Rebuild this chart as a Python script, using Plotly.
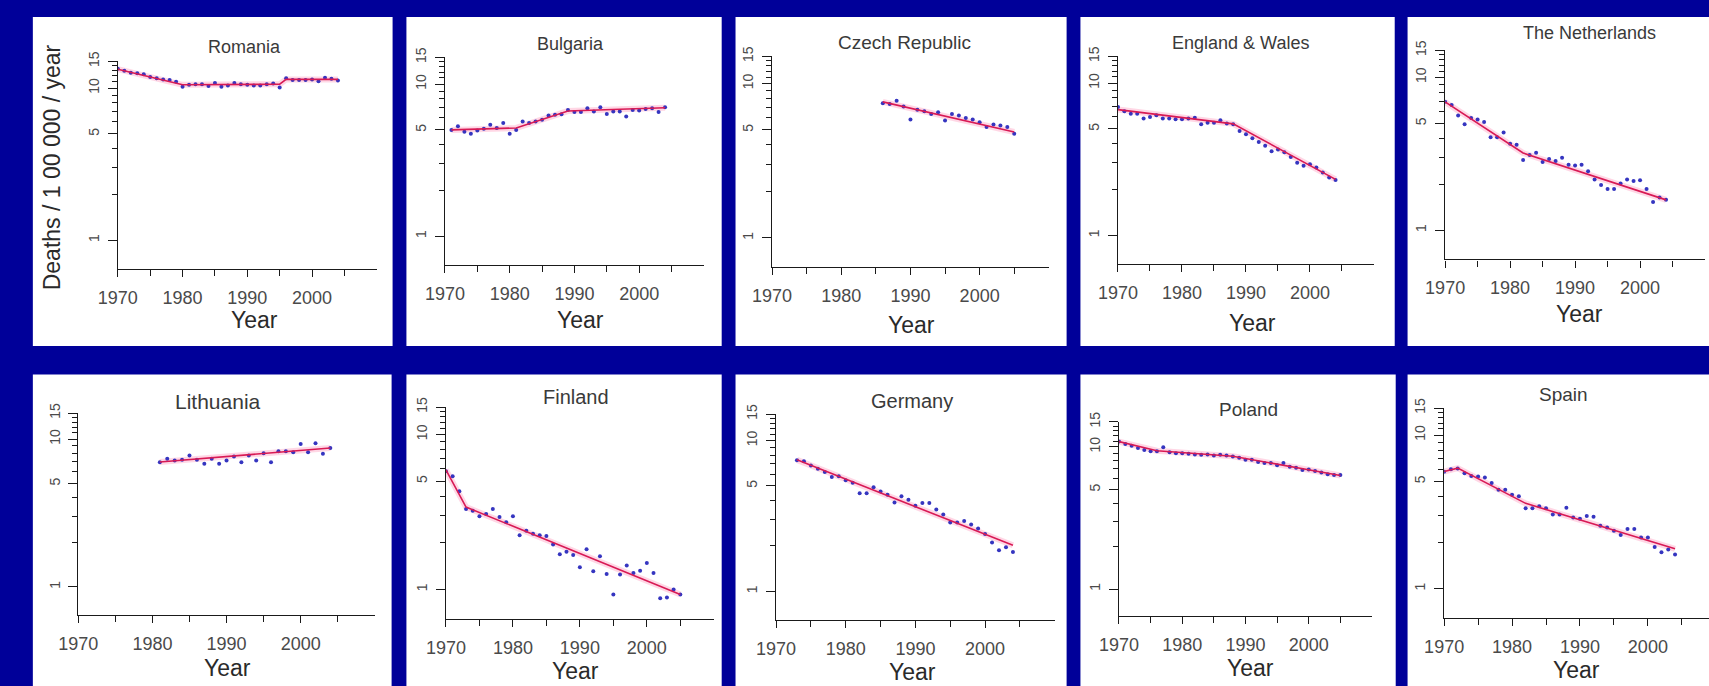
import plotly.graph_objects as go

# ---------------------------------------------------------------------------
# Mortality rates (deaths per 100 000 per year), observed points and joinpoint fits
# ---------------------------------------------------------------------------
romania_years = list(range(1970, 2005))
romania_rate = [13.4, 13.0, 12.6, 12.5, 12.3, 11.8, 11.6, 11.4, 11.3, 11.0,
                10.2, 10.5, 10.6, 10.6, 10.3, 10.8, 10.2, 10.4, 10.8, 10.6,
                10.5, 10.4, 10.4, 10.6, 10.7, 10.1, 11.6, 11.3, 11.3, 11.3,
                11.4, 11.1, 11.7, 11.5, 11.2]
romania_fit_years = [1970, 1980, 1995, 1996, 2004]
romania_fit = [13.3, 10.5, 10.6, 11.4, 11.4]

bulgaria_years = list(range(1971, 2005))
bulgaria_rate = [5.0, 5.28, 4.86, 4.71, 4.95, 5.08, 5.41, 5.15, 5.55, 4.71,
                 5.0, 5.69, 5.55, 5.69, 5.83, 6.22, 6.28, 6.33, 6.77, 6.55,
                 6.55, 6.94, 6.6, 7.05, 6.36, 6.6, 6.6, 6.13, 6.77, 6.7,
                 6.86, 6.94, 6.55, 7.05]
bulgaria_fit_years = [1971, 1981, 1989, 2004]
bulgaria_fit = [5.0, 5.15, 6.65, 7.0]

czech_years = list(range(1986, 2006))
czech_rate = [7.46, 7.37, 7.72, 7.1, 5.84, 6.77, 6.6, 6.35, 6.5, 5.75,
              6.35, 6.2, 5.98, 5.84, 5.6, 5.22, 5.42, 5.34, 5.22, 4.73]
czech_fit_years = [1986, 2005]
czech_fit = [7.6, 4.85]

england_years = list(range(1970, 2005))
england_rate = [6.97, 6.53, 6.28, 6.3, 5.86, 6.0, 6.15, 5.86, 5.86, 5.79,
                5.79, 5.86, 5.93, 5.36, 5.5, 5.5, 5.71, 5.42, 5.36, 4.85,
                4.62, 4.35, 4.1, 3.88, 3.57, 3.66, 3.52, 3.27, 3.0, 2.86,
                2.93, 2.79, 2.59, 2.4, 2.31]
england_fit_years = [1970, 1988, 2004]
england_fit = [6.7, 5.4, 2.33]

netherlands_years = list(range(1970, 2005))
netherlands_rate = [6.93, 6.6, 5.62, 4.93, 5.43, 5.3, 5.1, 4.06, 4.06, 4.36,
                    3.68, 3.62, 2.88, 3.1, 3.21, 2.79, 2.92, 2.84, 2.98, 2.68,
                    2.65, 2.68, 2.43, 2.15, 1.98, 1.86, 1.86, 2.02, 2.15, 2.1,
                    2.12, 1.86, 1.53, 1.64, 1.58]
netherlands_fit_years = [1970, 1982, 2004]
netherlands_fit = [6.9, 3.2, 1.58]

lithuania_years = list(range(1981, 2005))
lithuania_rate = [6.98, 7.36, 7.17, 7.24, 7.74, 7.24, 6.81, 7.36, 6.81, 7.17,
                  7.62, 6.98, 7.74, 7.17, 8.02, 6.98, 8.27, 8.27, 8.15, 9.26,
                  8.15, 9.36, 7.95, 8.71]
lithuania_fit_years = [1981, 2004]
lithuania_fit = [7.0, 8.7]

finland_years = list(range(1970, 2006))
finland_rate = [5.79, 5.38, 4.3, 3.3, 3.22, 2.97, 3.07, 3.3, 2.93, 2.72,
                2.97, 2.24, 2.39, 2.29, 2.24, 2.21, 1.95, 1.69, 1.75, 1.67,
                1.39, 1.82, 1.31, 1.64, 1.26, 0.93, 1.25, 1.43, 1.28, 1.32,
                1.48, 1.28, 0.88, 0.89, 1.0, 0.93]
finland_fit_years = [1970, 1973, 2005]
finland_fit = [5.9, 3.4, 0.93]

germany_years = list(range(1973, 2005))
germany_rate = [7.4, 7.3, 6.84, 6.51, 6.19, 5.74, 5.8, 5.46, 5.25, 4.48,
                4.48, 4.9, 4.59, 4.37, 3.89, 4.27, 4.05, 3.7, 3.85, 3.85,
                3.49, 3.23, 2.86, 2.86, 2.93, 2.78, 2.61, 2.4, 2.11, 1.87,
                1.96, 1.82]
germany_fit_years = [1973, 2004]
germany_fit = [7.45, 2.02]

poland_years = list(range(1970, 2006))
poland_rate = [10.9, 10.5, 10.2, 9.84, 9.53, 9.34, 9.34, 9.95, 9.19, 9.04,
               9.04, 8.95, 8.86, 8.82, 8.86, 8.72, 8.82, 8.72, 8.58, 8.4,
               8.14, 8.14, 7.84, 7.7, 7.7, 7.44, 7.7, 7.25, 7.14, 6.87,
               6.93, 6.77, 6.6, 6.42, 6.35, 6.35]
poland_fit_years = [1970, 1976, 1988, 2005]
poland_fit = [10.9, 9.4, 8.6, 6.3]

spain_years = list(range(1970, 2005))
spain_rate = [5.79, 6.0, 6.07, 5.65, 5.43, 5.38, 5.3, 4.88, 4.42, 4.42,
              4.1, 4.0, 3.34, 3.34, 3.45, 3.34, 3.05, 3.05, 3.37, 2.91,
              2.86, 2.98, 2.95, 2.57, 2.51, 2.39, 2.24, 2.45, 2.45, 2.16,
              2.16, 1.87, 1.73, 1.8, 1.67]
spain_fit_years = [1970, 1972, 1982, 2004]
spain_fit = [5.8, 6.1, 3.6, 1.82]

# tick labels
x_tick_years = [1970, 1980, 1990, 2000]
x_minor_years = [1975, 1985, 1995, 2005]
y_tick_vals = [1, 5, 10, 15]
y_minor_vals = [2, 3, 4, 6, 7, 8, 9, 11, 12, 13, 14]

series = [
    ("Romania", romania_years, romania_rate, romania_fit_years, romania_fit),
    ("Bulgaria", bulgaria_years, bulgaria_rate, bulgaria_fit_years, bulgaria_fit),
    ("Czech Republic", czech_years, czech_rate, czech_fit_years, czech_fit),
    ("England & Wales", england_years, england_rate, england_fit_years, england_fit),
    ("The Netherlands", netherlands_years, netherlands_rate, netherlands_fit_years, netherlands_fit),
    ("Lithuania", lithuania_years, lithuania_rate, lithuania_fit_years, lithuania_fit),
    ("Finland", finland_years, finland_rate, finland_fit_years, finland_fit),
    ("Germany", germany_years, germany_rate, germany_fit_years, germany_fit),
    ("Poland", poland_years, poland_rate, poland_fit_years, poland_fit),
    ("Spain", spain_years, spain_rate, spain_fit_years, spain_fit),
]

# ---------------------------------------------------------------------------
# Page geometry (pixels): white cards and plot boxes for each small multiple
# ---------------------------------------------------------------------------
W, H = 1709, 686
BG = "#000099"
FONT = "Liberation Sans, Arial, sans-serif"

cards = [
    (13, 377, 7, 341), (391, 710, 7, 341), (724, 1059, 7, 341),
    (1073, 1391, 7, 341), (1404, 1720, 7, 341),
    (13, 376, 370, 700), (391, 710, 370, 700), (724, 1059, 370, 700),
    (1073, 1392, 370, 700), (1404, 1720, 370, 700),
]

# plot box: x-left, x-right, y-top, y-bottom, last year at the right edge
boxes = [
    (99, 361, 52, 263, 2010),
    (430, 692, 48, 259, 2010),
    (761, 1041, 47, 261, 2010),
    (1111, 1370, 47, 258, 2010),
    (1442, 1705, 41, 253, 2010),
    (59, 359, 409, 614, 2010),
    (431, 702, 403, 618, 2010),
    (765, 1047, 410, 619, 2010),
    (1112, 1368, 418, 615, 2010),
    (1441, 1709, 404, 617, 2009),
]

title_pos = [(227, 38, 18), (557, 35, 18), (895, 33, 19), (1235, 33, 18), (1588, 23, 18),
             (200, 397, 21), (563, 393, 20), (903, 397, 20), (1243, 405, 19), (1562, 390, 19)]
year_pos = [(237, 315), (567, 315), (902, 320), (1247, 318), (1578, 308),
            (210, 668), (562, 671), (903, 672), (1245, 668), (1575, 670)]

Y_RANGE = [-0.19, 1.1761]


def px_x(px):
    return px / W


def px_y(py):
    return 1 - py / H


fig = go.Figure()
shapes = []
annotations = []
layout_axes = {}

for i, (name, yrs, rate, fit_yrs, fit) in enumerate(series):
    n = i + 1
    xa = "x" if n == 1 else f"x{n}"
    ya = "y" if n == 1 else f"y{n}"

    # faint halo behind the fitted trend
    fig.add_trace(go.Scatter(x=fit_yrs, y=fit, mode="lines", xaxis=xa, yaxis=ya,
                             line=dict(color="rgba(255,110,160,0.28)", width=6),
                             hoverinfo="skip", showlegend=False))
    # observed rates
    fig.add_trace(go.Scatter(x=yrs, y=rate, mode="markers", xaxis=xa, yaxis=ya,
                             marker=dict(color="#3535c0", size=4),
                             name=name, showlegend=False))
    # joinpoint trend
    fig.add_trace(go.Scatter(x=fit_yrs, y=fit, mode="lines", xaxis=xa, yaxis=ya,
                             line=dict(color="#d81a55", width=1.6),
                             name=name + " trend", showlegend=False))

    cx0, cx1, cy0, cy1 = cards[i]
    shapes.append(dict(type="rect", xref="paper", yref="paper", layer="below",
                       x0=px_x(cx0), x1=min(px_x(cx1), 1.02),
                       y0=px_y(cy1), y1=px_y(cy0),
                       fillcolor="white", line=dict(width=0)))

    bx0, bx1, by0, by1, xmax = boxes[i]
    axis_color = "#1a1a1a"
    layout_axes["xaxis" if n == 1 else f"xaxis{n}"] = dict(
        domain=[px_x(bx0), min(px_x(bx1), 1.0)],
        anchor=ya, range=[1970, xmax],
        showline=True, linecolor=axis_color, linewidth=1.4,
        ticks="outside", ticklen=7, tickwidth=1.4, tickcolor=axis_color,
        tickmode="array", tickvals=x_tick_years,
        ticktext=[str(v) for v in x_tick_years],
        tickfont=dict(family=FONT, size=18, color="#4a4a4a"),
        ticklabelstandoff=5,
        minor=dict(tickmode="array", tickvals=x_minor_years, ticks="outside",
                   ticklen=6, tickwidth=1.4, tickcolor=axis_color, showgrid=False),
        showgrid=False, zeroline=False, fixedrange=True,
    )
    layout_axes["yaxis" if n == 1 else f"yaxis{n}"] = dict(
        domain=[px_y(by1), px_y(by0)],
        anchor=xa, type="log", range=Y_RANGE,
        showline=True, linecolor=axis_color, linewidth=1.4,
        ticks="outside", ticklen=9, tickwidth=1.4, tickcolor=axis_color,
        tickmode="array", tickvals=y_tick_vals,
        ticktext=[str(v) for v in y_tick_vals],
        tickangle=-90,
        tickfont=dict(family=FONT, size=14, color="#4a4a4a"),
        ticklabelstandoff=3,
        minor=dict(tickmode="array", tickvals=y_minor_vals, ticks="outside",
                   ticklen=5, tickwidth=1.3, tickcolor=axis_color, showgrid=False),
        showgrid=False, zeroline=False, fixedrange=True,
    )

    tx, ty, ts = title_pos[i]
    annotations.append(dict(text=name, xref="paper", yref="paper",
                            x=px_x(tx), y=px_y(ty), xanchor="center", yanchor="middle",
                            showarrow=False,
                            font=dict(family=FONT, size=ts, color="#3a3a3a")))
    yx, yy = year_pos[i]
    annotations.append(dict(text="Year", xref="paper", yref="paper",
                            x=px_x(yx), y=px_y(yy), xanchor="center", yanchor="middle",
                            showarrow=False,
                            font=dict(family=FONT, size=23, color="#2a2a2a")))

annotations.append(dict(text="Deaths / 1 00 000 / year", xref="paper", yref="paper",
                        x=px_x(32), y=px_y(160), xanchor="center", yanchor="middle",
                        textangle=-90, showarrow=False,
                        font=dict(family=FONT, size=23, color="#2a2a2a")))

fig.update_layout(
    width=W, height=H,
    margin=dict(l=0, r=0, t=0, b=0),
    paper_bgcolor=BG, plot_bgcolor="rgba(0,0,0,0)",
    shapes=shapes, annotations=annotations,
    showlegend=False,
    **layout_axes,
)

fig.write_html("out.html", config={"displayModeBar": False})
